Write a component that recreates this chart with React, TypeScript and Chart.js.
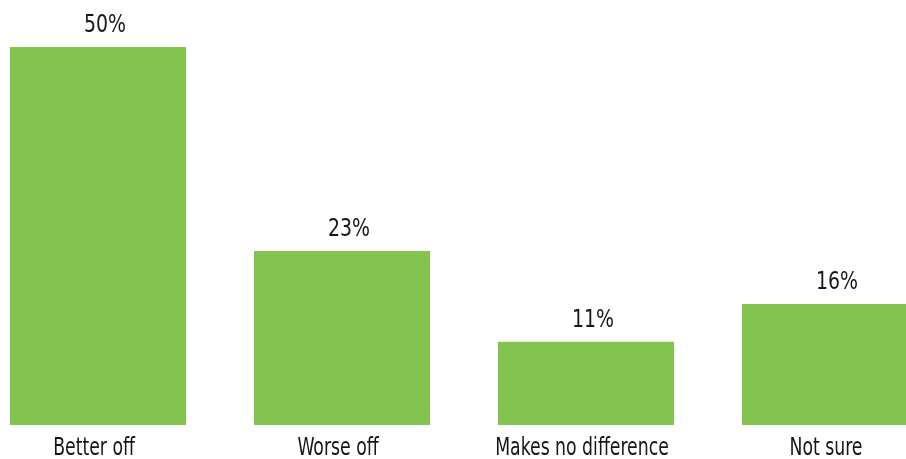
import React, { useEffect, useRef } from "react";
import { Chart, registerables } from "chart.js";

Chart.register(...registerables);

const categories: string[] = ["Better off", "Worse off", "Makes no difference", "Not sure"];
const values: number[] = [50, 23, 11, 16];
const valueLabels: string[] = ["50%", "23%", "11%", "16%"];

const BAR_COLOR = "#83C450";
const TEXT_COLOR = "#161616";
const FONT_FAMILY = "'Liberation Sans Narrow', 'DejaVu Sans Condensed', 'Roboto', sans-serif";

function drawCondensed(
  ctx: CanvasRenderingContext2D,
  text: string,
  cx: number,
  y: number,
  sx: number
) {
  ctx.save();
  ctx.translate(cx, y);
  ctx.scale(sx, 1);
  ctx.fillText(text, 0, 0);
  ctx.restore();
}

const labelPlugin = {
  id: "barLabels",
  afterDatasetsDraw(chart: any) {
    const ctx = chart.ctx as CanvasRenderingContext2D;
    const meta = chart.getDatasetMeta(0);
    const area = chart.chartArea;
    ctx.save();
    ctx.fillStyle = TEXT_COLOR;
    ctx.textAlign = "center";
    ctx.textBaseline = "alphabetic";
    meta.data.forEach((bar: any, i: number) => {
      ctx.font = `25px ${FONT_FAMILY}`;
      drawCondensed(ctx, valueLabels[i], bar.x + 7, bar.y - 15, 0.84);
      ctx.font = `24px ${FONT_FAMILY}`;
      drawCondensed(ctx, categories[i], bar.x - 4, area.bottom + 30, 0.8);
    });
    ctx.restore();
  },
};

export default function App() {
  const canvasRef = useRef<HTMLCanvasElement | null>(null);

  useEffect(() => {
    if (!canvasRef.current) return;
    const chart = new Chart(canvasRef.current, {
      type: "bar",
      data: {
        labels: categories,
        datasets: [
          {
            data: values,
            backgroundColor: BAR_COLOR,
            borderWidth: 0,
            barPercentage: 176 / 244,
            categoryPercentage: 1,
          },
        ],
      },
      options: {
        animation: false,
        responsive: false,
        devicePixelRatio: 1,
        layout: { padding: { top: 0, bottom: 34, left: 0, right: 0 } },
        plugins: {
          legend: { display: false },
          tooltip: { enabled: false },
          title: { display: false },
        },
        scales: {
          x: { display: false },
          y: { display: false, min: 0, max: 56.2 },
        },
      },
      plugins: [labelPlugin],
    });
    return () => chart.destroy();
  }, []);

  return (
    <div
      style={{
        position: "fixed",
        left: 0,
        top: 0,
        width: 906,
        height: 459,
        overflow: "hidden",
        background: "#ffffff",
      }}
    >
      <div style={{ position: "absolute", left: -24, top: 0, width: 976, height: 459 }}>
        <canvas ref={canvasRef} width={976} height={459} style={{ display: "block" }} />
      </div>
    </div>
  );
}
